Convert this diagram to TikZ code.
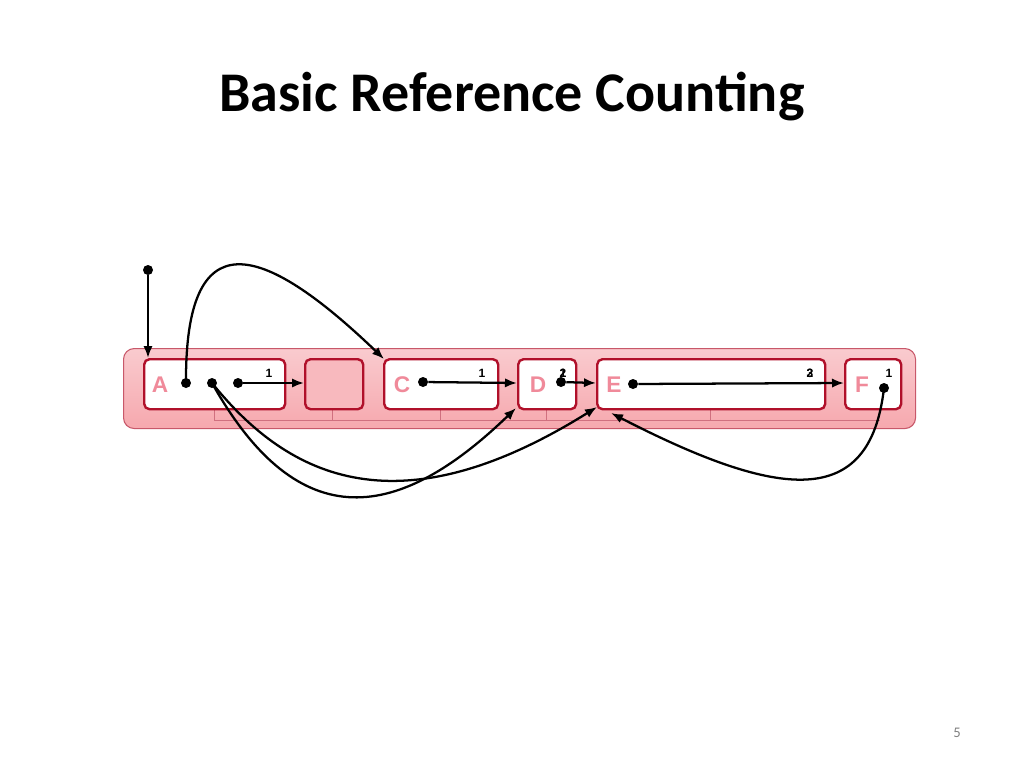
\documentclass[tikz,border=0pt]{standalone}
\usepackage{fontspec}
\setmainfont{Carlito}
\newfontfamily\lbl{Liberation Sans}
\usetikzlibrary{arrows.meta}
\definecolor{bord}{HTML}{B0102A}
\definecolor{letr}{HTML}{F08A9A}
\definecolor{band}{HTML}{F6A8AE}
\begin{document}
\begin{tikzpicture}[x=0.75pt,y=-0.75pt,
 obj/.style={draw=bord,line width=1.8pt,rounded corners=4pt,fill=white,minimum height=37.5pt,anchor=north west,inner sep=0pt},
 let/.style={font=\lbl\bfseries\fontsize{17}{17}\selectfont,text=letr},
 cnt/.style={font=\lbl\bfseries\fontsize{9}{9}\selectfont},
 dot/.style={circle,fill=black,inner sep=0pt,minimum size=7.5pt},
 ptr/.style={line width=1.7pt,-{Latex[length=9pt,width=7pt]}}]
\useasboundingbox (0,0) rectangle (1024,768);
\node[font=\bfseries\fontsize{42}{42}\selectfont] (title) at (512,97) {Basic Reference Counting};
\node[text=gray,font=\fontsize{11}{11}\selectfont] (pg) at (957,733) {5};
\node[draw=bord!70,line width=0.8pt,rounded corners=8pt,top color=band!60,bottom color=band,minimum width=594pt,minimum height=60pt,anchor=north west,inner sep=0pt] (band) at (123,348) {};
\draw[bord!60,line width=0.6pt] (214,408)--(214,420)--(880,420) (332,408)--(332,420) (440,408)--(440,420) (546,408)--(546,420) (710,408)--(710,420);
\node[obj,minimum width=105.75pt] (A) at (143,358) {};
\node[obj,minimum width=43.5pt,fill=band!80] (B) at (304,358) {};
\node[obj,minimum width=85.5pt] (C) at (383,358) {};
\node[obj,minimum width=43.5pt] (D) at (517,358) {};
\node[obj,minimum width=171pt] (E) at (596,358) {};
\node[obj,minimum width=42pt] (F) at (844,358) {};
\node[let] (la) at (160,385) {A};
\node[let] (lc) at (402,385) {C};
\node[let] (ld) at (538,385) {D};
\node[let] (le) at (614,385) {E};
\node[let] (lf) at (862,385) {F};
\node[cnt] (ca) at (269,373) {1};
\node[cnt] (cc) at (482,373) {1};
\node[cnt] (cd1) at (563,373) {1};
\node[cnt] (cd2) at (563,373) {2};
\node[cnt] (ce1) at (810,373) {2};
\node[cnt] (ce2) at (810,373) {3};
\node[cnt] (cf) at (889,373) {1};
\node[dot] (a1) at (186,383) {};
\node[dot] (a2) at (212,383) {};
\node[dot] (a3) at (238,383) {};
\node[dot] (c1) at (423,382) {};
\node[dot] (d1) at (561,382) {};
\node[dot] (e1) at (633,384) {};
\node[dot] (f1) at (884,388) {};
\node[dot] (root) at (148,270) {};
\coordinate (Atop) at (148,358);
\coordinate (Bw) at (304,383);
\coordinate (Cnw) at (384,359);
\coordinate (Cw) at (517,383);
\coordinate (Dw) at (596,383);
\coordinate (Ew) at (844,383);
\coordinate (Dsw) at (516,408);
\coordinate (Esw) at (597,407);
\coordinate (Es) at (611,413);
\draw[ptr] (root) -- (Atop);
\draw[ptr] (a3) -- (Bw);
\draw[ptr] (c1) -- (Cw);
\draw[ptr] (d1) -- (Dw);
\draw[ptr] (e1) -- (Ew);
\draw[ptr] (a1.center) .. controls (185,220) and (260,240) .. (Cnw);
\draw[ptr] (a2.center) .. controls (300,540) and (400,520) .. (Dsw);
\draw[ptr] (a2.center) .. controls (290,480) and (400,530) .. (Esw);
\draw[ptr] (f1.center) .. controls (870,510) and (780,500) .. (Es);
\end{tikzpicture}
\end{document}
